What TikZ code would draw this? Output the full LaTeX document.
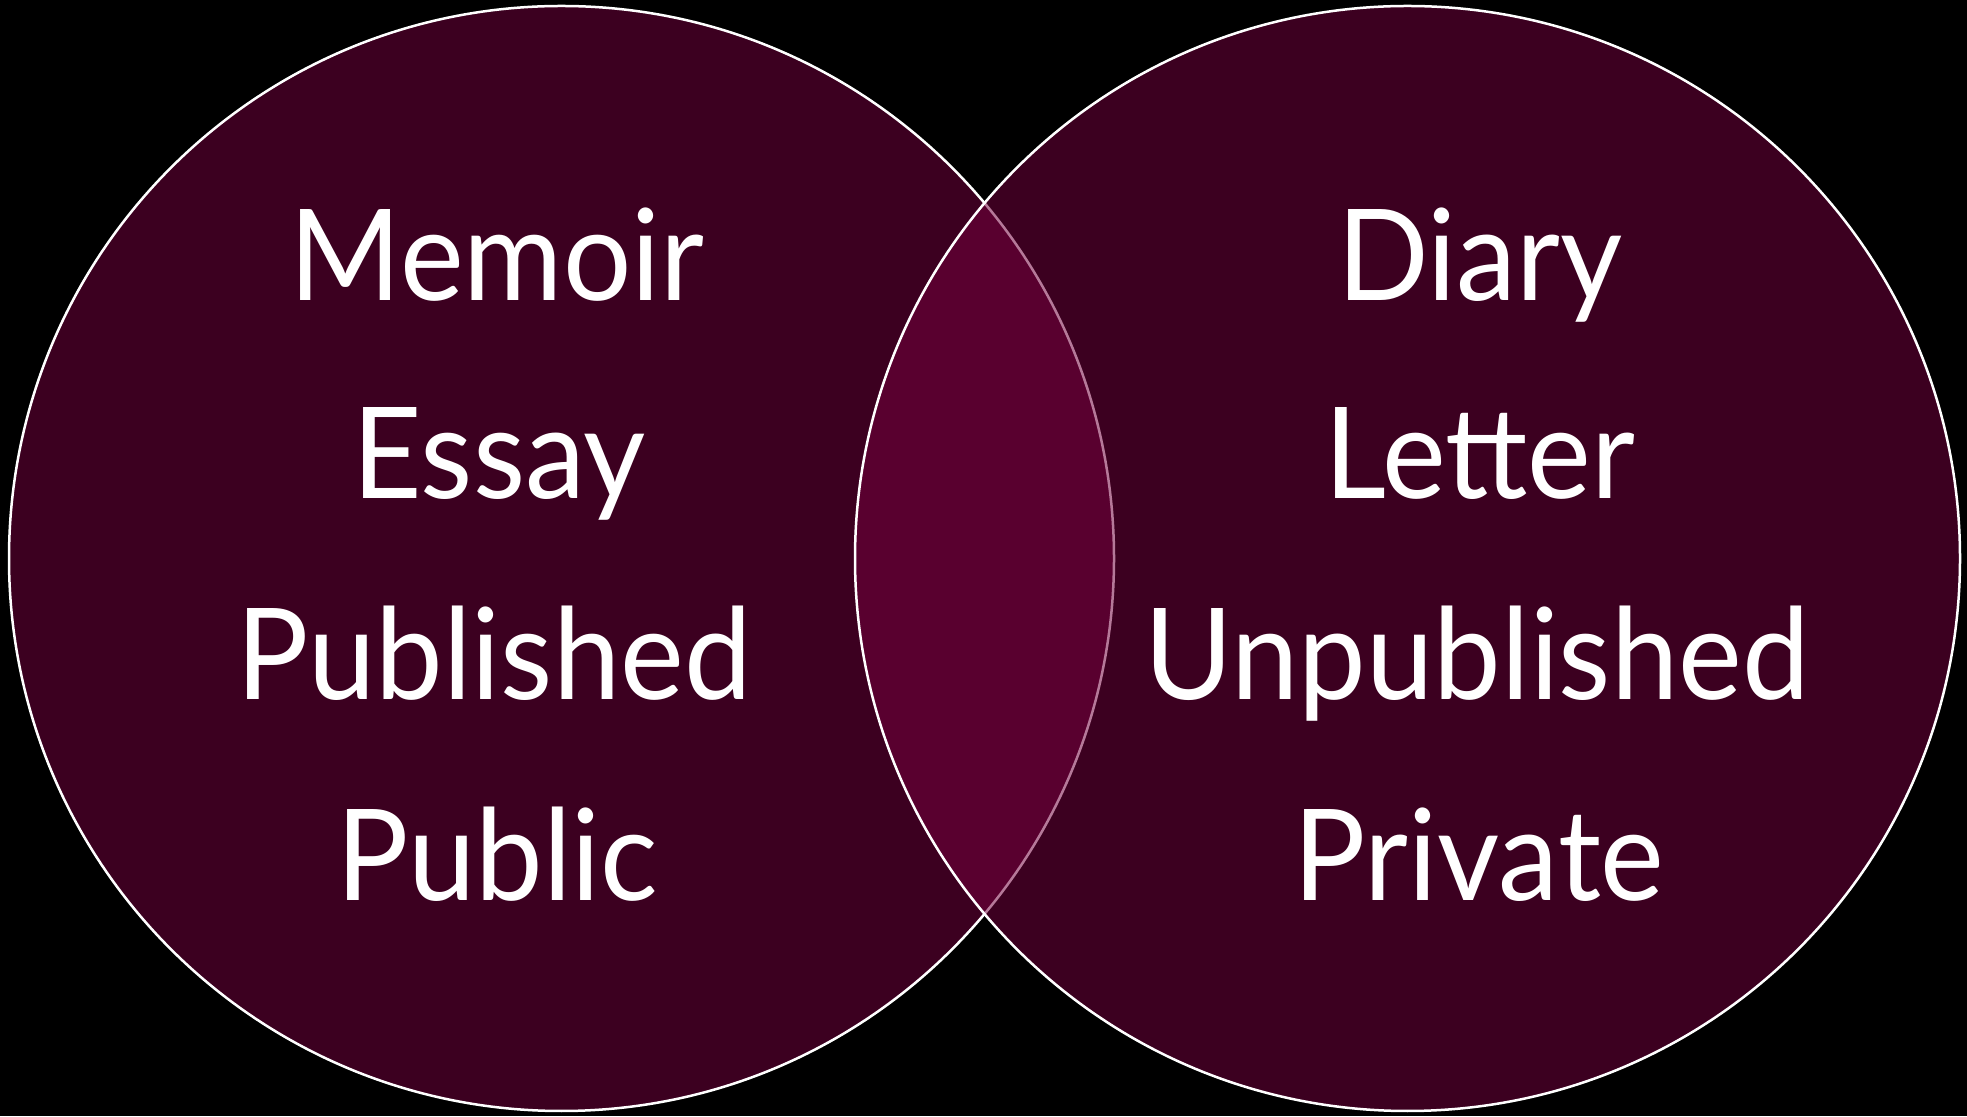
\documentclass[tikz,border=0pt]{standalone}
\usepackage{fontspec}
\setmainfont{Lato}[FakeStretch=0.95]
\definecolor{setfill}{RGB}{116,0,61}
\begin{document}
\begin{tikzpicture}[x=1pt, y=1pt,
        set/.style={circle, draw=white, line width=2.5pt, fill=setfill,
            fill opacity=0.525, draw opacity=1, minimum size=1105pt, inner sep=0pt},
        word/.style={text=white, anchor=base, font=\fontsize{127}{127}\selectfont}]
    \fill[black] (0,0) rectangle (1967,1116);
    \useasboundingbox (0,0) rectangle (1967,1116);
    % the two sets, right one drawn last so its fill dims the left rim
    \node[set] (public set) at (561.5,557.5) {};
    \node[set] (private set) at (1407.5,557.5) {};
    % left column
    \node[word] (memoir) at (497,815) {Memoir};
    \node[word] (essay) at (499,617) {Essay};
    \node[word] (published) at (494,416) {Published};
    \node[word] (public) at (497,215) {Public};
    % right column
    \node[word] (diary) at (1480,815) {Diary};
    \node[word] (letter) at (1480,617) {Letter};
    \node[word] (unpublished) at (1477,416) {Unpublished};
    \node[word] (private) at (1479,215) {Private};
\end{tikzpicture}
\end{document}
